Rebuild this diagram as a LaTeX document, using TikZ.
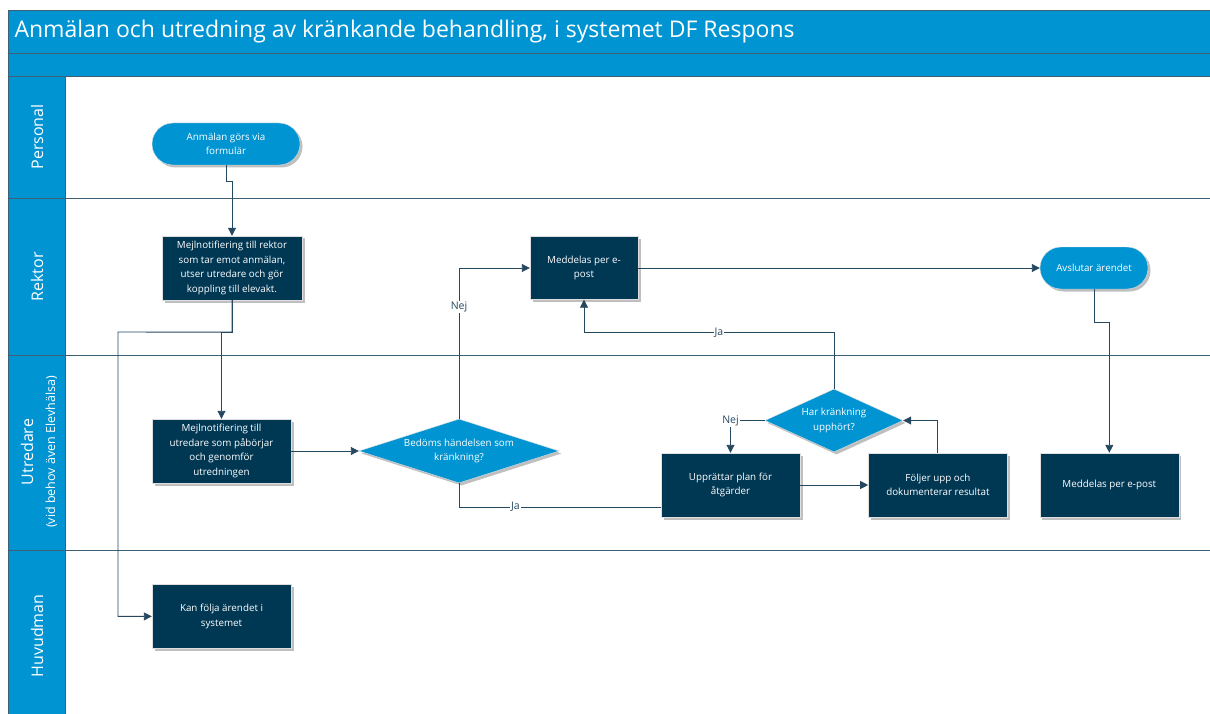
\documentclass[tikz,border=0pt]{standalone}
\usepackage{fontspec}
\setmainfont{Open Sans}
\usetikzlibrary{positioning, arrows.meta, shapes.geometric, shadows}
\definecolor{laneblue}{RGB}{0,148,210}
\definecolor{boxnavy}{RGB}{0,56,84}
\definecolor{flowgray}{RGB}{38,72,95}
\definecolor{framegray}{RGB}{62,96,118}
\tikzset{
x=1pt, y=-1pt, % pixel units, y runs downwards
>={Triangle[length=8pt,width=8pt]}, % filled arrow heads
every node/.style={font=\fontsize{9.8}{14.5}\selectfont, align=center},
boxshadow/.style={drop shadow={shadow xshift=2.5pt, shadow yshift=-2.5pt, fill=black, opacity=0.25}},
process/.style={rectangle, fill=boxnavy, draw=white!75!gray, text=white, inner sep=0pt, minimum width=139pt, minimum height=64pt, boxshadow},
terminal/.style={rectangle, rounded corners=21pt, fill=laneblue, draw=white!75!gray, text=white, inner sep=0pt, minimum height=42pt, boxshadow},
decision/.style={diamond, fill=laneblue, draw=white!75!gray, text=white, inner sep=0pt, boxshadow},
flow/.style={draw=flowgray, line width=0.9pt}, % the connectors
answer/.style={fill=white, text=flowgray, inner sep=1pt, font=\fontsize{10.5}{12}\selectfont},
lanetext/.style={rotate=90, text=white, font=\fontsize{16}{22}\selectfont},
}

\begin{document}
\begin{tikzpicture}
                \useasboundingbox (0,0) rectangle (1210,714);
                % swimlane frame
                \fill[laneblue] (8,10) rectangle (1212,76);
                \fill[laneblue] (8,76) rectangle (65,716);
                \draw[framegray, line width=0.8pt] (8,10) -- (1212,10) (8,53) -- (1212,53) (8,76) -- (1212,76)
                    (8,198) -- (1212,198) (8,355) -- (1212,355) (8,550) -- (1212,550)
                    (8,10) -- (8,716) (65,76) -- (65,716);
                \node[anchor=west, text=white, font=\fontsize{23}{26}\selectfont] (title) at (11,32) {Anmälan och utredning av kränkande behandling, i systemet DF Respons};
                \node[lanetext] (l1) at (37,137) {Personal};
                \node[lanetext] (l2) at (37,277) {Rektor};
                \node[lanetext] (l3) at (39,452) {Utredare\\{\fontsize{12.5}{15}\selectfont(vid behov även Elevhälsa)}};
                \node[lanetext] (l4) at (37,636) {Huvudman};

                \node[terminal, minimum width=148pt] (n1) at (226,144) {Anmälan görs via\\formulär};
                \node[process, minimum width=140pt] (n2) at (232,268) {Mejlnotifiering till rektor\\som tar emot anmälan,\\utser utredare och gör\\koppling till elevakt.};
                \node[process] (n3) at (221.5,451) {Mejlnotifiering till\\utredare som påbörjar\\och genomför\\utredningen};
                \node[process, below=101pt of n3] (n4) {Kan följa ärendet i\\systemet};
                \node[decision, aspect=3.125, minimum width=200pt, minimum height=64pt] (n5) at (459,451) {Bedöms händelsen som\\kränkning?};
                \node[process, minimum width=108pt, minimum height=63pt] (n6) at (584,268) {Meddelas per e-\\post};
                \node[process] (n7) at (730.5,485) {Upprättar plan för\\åtgärder};
                \node[decision, aspect=2.19, minimum width=138pt, minimum height=63pt] (n8) at (834,420.5) {Har kränkning\\upphört?};
                \node[process, right=68pt of n7] (n9) {Följer upp och\\dokumenterar resultat};
                \node[terminal, minimum width=108pt] (n10) at (1094,268) {Avslutar ärendet};
                \node[process, right=32pt of n9] (n11) {Meddelas per e-post};
                \coordinate (k1) at (118,332);

                \draw[flow, ->] (n1.south) -- ++(0,16) -| (n2.north);
                \draw[flow, ->] (n2.south) -- ++(0,32) -| (n3.north);
                \draw[flow, ->] (n2.south) -- ++(0,32) -- (k1) |- (n4.west);
                \draw[flow, ->] (n3.east) -- (n5.west);
                \draw[flow, ->] (n5.north) |- node[answer, pos=0.37]{Nej} (n6.west);
                \draw[flow] (n5.south) |- node[answer, pos=0.64]{Ja} ([yshift=10pt]n7.south west);
                \draw[flow, ->] (n8.north) -- ++(0,-56) -| node[answer, pos=0.23]{Ja} (n6.south);
                \draw[flow, ->] (n8.west) -| node[answer, pos=0.5]{Nej} (n7.north);
                \draw[flow, ->] (n7.east) -- (n9.west);
                \draw[flow, ->] (n9.north) |- (n8.east);
                \draw[flow, ->] (n6.east) -- (n10.west);
                \draw[flow, ->] (n10.south) -- ++(0,33) -| (n11.north);
                \end{tikzpicture}
\end{document}
